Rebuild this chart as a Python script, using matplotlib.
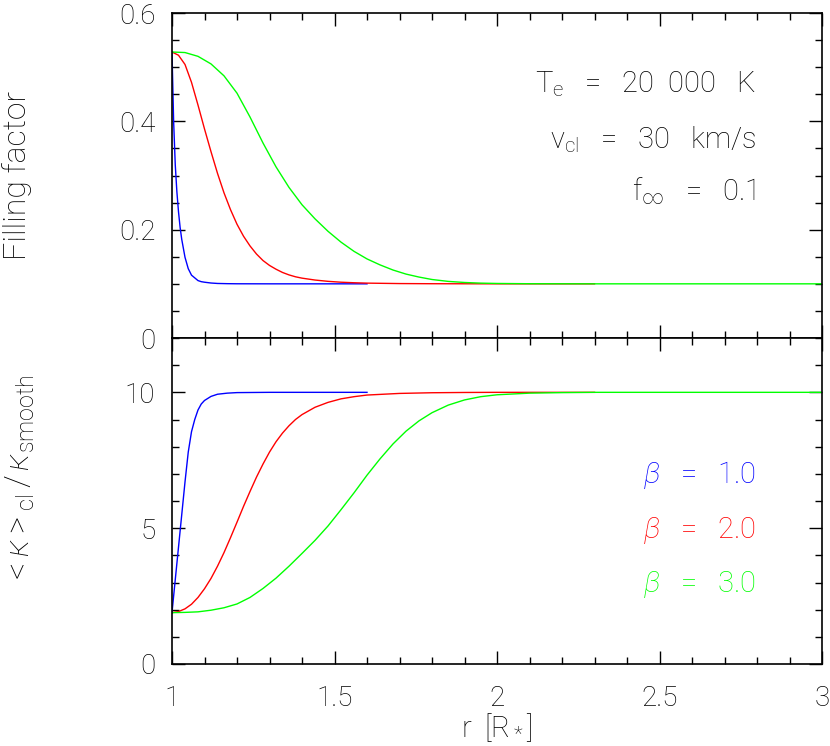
import matplotlib
matplotlib.use("Agg")
import matplotlib.pyplot as plt
from matplotlib.ticker import MultipleLocator, FixedLocator, FixedFormatter

plt.rcParams["font.family"] = ["Roboto", "DejaVu Sans"]
plt.rcParams["font.weight"] = "light"
plt.rcParams["mathtext.fontset"] = "custom"
plt.rcParams["mathtext.rm"] = "Roboto:light"
plt.rcParams["mathtext.it"] = "Roboto:italic:light"

# ── Data ───────────────────────────────────────────────────────────────────
r_b1 = [1.000, 1.005, 1.010, 1.015, 1.020, 1.025, 1.030, 1.040, 1.050, 1.060,
        1.070, 1.080, 1.090, 1.100, 1.120, 1.140, 1.170, 1.200, 1.300, 1.400,
        1.500, 1.600]
f_b1 = [0.528, 0.400, 0.320, 0.270, 0.233, 0.204, 0.182, 0.149, 0.128, 0.116,
        0.111, 0.106, 0.104, 0.103, 0.1015, 0.1007, 0.1003, 0.1001, 0.100, 0.100,
        0.100, 0.100]
k_b1 = [1.89, 2.50, 3.10, 3.70, 4.30, 4.90, 5.50, 6.70, 7.80, 8.55,
        9.00, 9.35, 9.57, 9.70, 9.85, 9.93, 9.97, 9.99, 10.0, 10.0,
        10.0, 10.0]

r_b2 = [1.00, 1.02, 1.04, 1.06, 1.08, 1.10, 1.12, 1.14, 1.16, 1.18,
        1.20, 1.22, 1.24, 1.26, 1.28, 1.30, 1.32, 1.34, 1.36, 1.38,
        1.40, 1.44, 1.48, 1.52, 1.56, 1.60, 1.70, 1.80, 1.90, 2.00,
        2.30]
f_b2 = [0.528, 0.522, 0.505, 0.472, 0.430, 0.386, 0.344, 0.304, 0.268, 0.237,
        0.210, 0.188, 0.170, 0.155, 0.143, 0.134, 0.127, 0.121, 0.1165, 0.113,
        0.1105, 0.107, 0.1046, 0.103, 0.102, 0.1013, 0.1005, 0.1002, 0.1001, 0.100,
        0.100]
k_b2 = [1.89, 1.93, 2.03, 2.20, 2.45, 2.77, 3.15, 3.60, 4.10, 4.65,
        5.22, 5.80, 6.35, 6.88, 7.36, 7.80, 8.18, 8.50, 8.77, 9.00,
        9.18, 9.45, 9.63, 9.76, 9.84, 9.90, 9.96, 9.985, 9.995, 10.0,
        10.0]

r_b3 = [1.00, 1.04, 1.08, 1.12, 1.16, 1.20, 1.24, 1.28, 1.32, 1.36,
        1.40, 1.44, 1.48, 1.52, 1.56, 1.60, 1.64, 1.68, 1.72, 1.76,
        1.80, 1.85, 1.90, 1.95, 2.00, 2.10, 2.20, 2.30, 3.00]
f_b3 = [0.528, 0.527, 0.520, 0.506, 0.484, 0.452, 0.408, 0.360, 0.316, 0.278,
        0.246, 0.220, 0.197, 0.177, 0.160, 0.146, 0.135, 0.1255, 0.118, 0.1125,
        0.108, 0.1045, 0.1025, 0.1013, 0.1007, 0.1002, 0.1001, 0.100, 0.100]
k_b3 = [1.89, 1.90, 1.92, 1.98, 2.07, 2.21, 2.45, 2.78, 3.16, 3.60,
        4.07, 4.55, 5.08, 5.68, 6.30, 6.95, 7.55, 8.10, 8.57, 8.95,
        9.25, 9.53, 9.72, 9.84, 9.91, 9.97, 9.99, 10.0, 10.0]

beta_labels = ["1.0", "2.0", "3.0"]
colors = ["#0000ff", "#ff0000", "#00ff00"]

x_ticks = [1, 1.5, 2, 2.5, 3]
x_ticklabels = ["1", "1.5", "2", "2.5", "3"]
top_yticks = [0, 0.2, 0.4, 0.6]
top_yticklabels = ["0", "0.2", "0.4", "0.6"]
bot_yticks = [0, 5, 10]
bot_yticklabels = ["0", "5", "10"]

FS = 21

# ── Figure ────────────────────────────────────────────────────────────────
fig = plt.figure(figsize=(8.3, 7.46), dpi=100)
ax1 = fig.add_axes([172 / 830, 1 - 338 / 746, 650 / 830, 325 / 746])
ax2 = fig.add_axes([172 / 830, 1 - 664 / 746, 650 / 830, 326 / 746])

curves = [(r_b1, f_b1, k_b1), (r_b2, f_b2, k_b2), (r_b3, f_b3, k_b3)]
for (r, f, k), c in zip(curves, colors):
    ax1.plot(r, f, color=c, lw=1.0)
    ax2.plot(r, k, color=c, lw=1.0)

for ax in (ax1, ax2):
    ax.set_xlim(1, 3)
    ax.xaxis.set_major_locator(FixedLocator(x_ticks))
    ax.xaxis.set_minor_locator(MultipleLocator(0.1))
    ax.tick_params(which="both", direction="in", top=True, right=True,
                   width=1.0, labelsize=20)
    ax.tick_params(which="major", length=9.5)
    ax.tick_params(which="minor", length=4.7)
    ax.tick_params(axis="y", pad=12)
    ax.tick_params(axis="x", pad=15)
    for s in ax.spines.values():
        s.set_linewidth(1.2)

ax1.set_ylim(0, 0.6)
ax1.yaxis.set_major_locator(FixedLocator(top_yticks))
ax1.yaxis.set_major_formatter(FixedFormatter(top_yticklabels))
ax1.yaxis.set_minor_locator(MultipleLocator(0.05))
ax1.tick_params(axis="x", labelbottom=False)

ax2.set_ylim(0, 12)
ax2.yaxis.set_major_locator(FixedLocator(bot_yticks))
ax2.yaxis.set_major_formatter(FixedFormatter(bot_yticklabels))
ax2.yaxis.set_minor_locator(MultipleLocator(1))
ax2.xaxis.set_major_formatter(FixedFormatter(x_ticklabels))

# annotations (top panel)
ax1.text(0.8985, 0.755, r"T$_\mathrm{e}$   =   20  000   K", transform=ax1.transAxes,
         ha="right", va="baseline", fontsize=FS)
ax1.text(0.8985, 0.5855, r"v$_\mathrm{cl}$   =   30   km/s", transform=ax1.transAxes,
         ha="right", va="baseline", fontsize=FS)
ax1.text(0.8985, 0.4246, r"f$_\infty$   =   0.1", transform=ax1.transAxes,
         ha="right", va="baseline", fontsize=FS)

# beta legend (bottom panel)
for lab, c, yb in zip(beta_labels, colors, [0.554, 0.3856, 0.2218]):
    ax2.text(0.8985, yb, r"$\beta$   =   " + lab, transform=ax2.transAxes,
             ha="right", va="baseline", fontsize=FS, color=c)

fig.text(17 / 830, 1 - 175 / 746, "Filling factor", rotation=90,
         ha="center", va="center", fontsize=23)
fig.text(20 / 830, 1 - 480 / 746,
         r"${<}\kappa{>}_\mathrm{cl}\,/\,\kappa_\mathrm{smooth}$", rotation=90,
         ha="center", va="center", fontsize=24)
fig.text(497 / 830, 1 - 728 / 746, r"r  [R$_*$]", ha="center", va="center",
         fontsize=FS)

fig.savefig("out.png", dpi=100)
